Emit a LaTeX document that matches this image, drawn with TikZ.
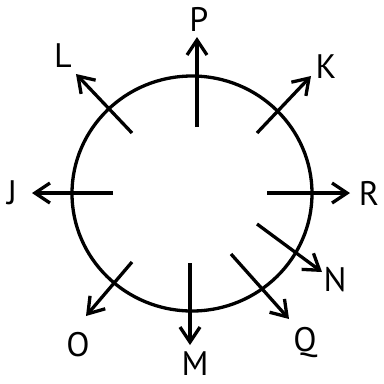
\documentclass[tikz,border=0pt]{standalone}
\usepackage{fontspec}
\setmainfont{PT Sans}
\usetikzlibrary{arrows.meta}
\begin{document}
\begin{tikzpicture}[x=1pt,y=-1pt,
  arr/.style={line width=3.3pt,-{Straight Barb[length=15pt,width=20pt,line width=3.3pt]}},
  lab/.style={font=\fontsize{34}{34}\selectfont,inner sep=0pt,text=black}]
\useasboundingbox (0,0) rectangle (384,384);
\draw[line width=3.3pt] (192,193.5) ellipse [x radius=120pt, y radius=117.5pt];
\coordinate (Ps) at (197,127); \coordinate (Pt) at (197,37);
\coordinate (Ks) at (257,133); \coordinate (Kt) at (311,76);
\coordinate (Ls) at (132,133); \coordinate (Lt) at (76,74);
\coordinate (Js) at (113,193); \coordinate (Jt) at (32,193);
\coordinate (Rs) at (267,193); \coordinate (Rt) at (350,193);
\coordinate (Ns) at (257,224); \coordinate (Nt) at (322,272);
\coordinate (Qs) at (231,254); \coordinate (Qt) at (289,319);
\coordinate (Ms) at (190,263); \coordinate (Mt) at (190,345);
\coordinate (Os) at (132,262); \coordinate (Ot) at (86,316);
\foreach \n in {P,K,L,J,R,N,Q,M,O} \draw[arr] (\n s) -- (\n t);
\node[lab] (P) at (199,19) {P};
\node[lab] (K) at (326,67) {K};
\node[lab] (L) at (63,56) {L};
\node[lab] (J) at (12,193) {J};
\node[lab] (R) at (369,193) {R};
\node[lab] (N) at (335,280) {N};
\node[lab] (Q) at (305,343) {Q};
\node[lab] (M) at (195,364) {M};
\node[lab] (O) at (78,345) {O};
\end{tikzpicture}
\end{document}
